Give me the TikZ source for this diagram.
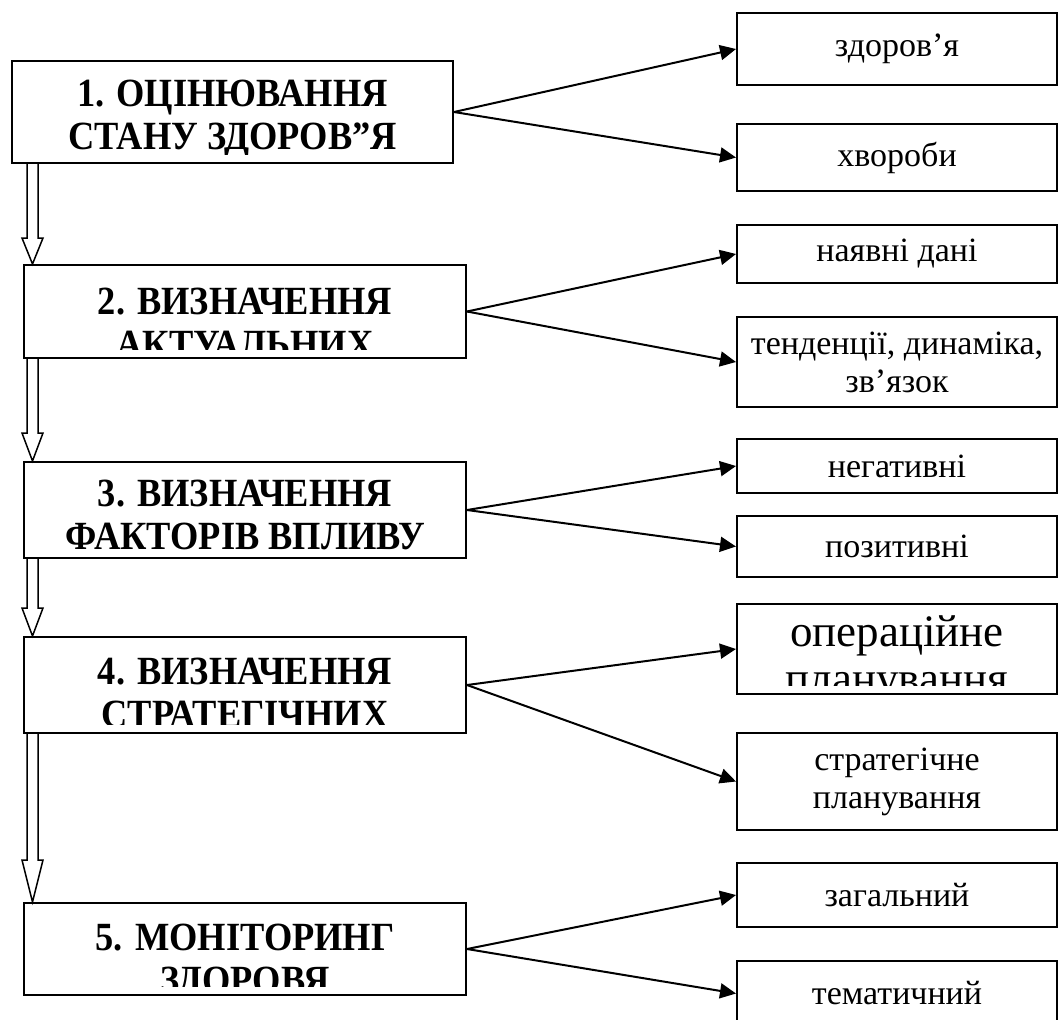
\documentclass[tikz,border=0pt]{standalone}
\usepackage{fontspec}
\setmainfont{LiberationSerif}[Extension=.ttf, UprightFont=*-Regular, BoldFont=*-Bold]
\newfontfamily\stagefont{LiberationSerif-Bold.ttf}[FakeStretch=0.91]
\usetikzlibrary{arrows.meta,calc}

\begin{document}
\begin{tikzpicture}[
    x=0.5pt, y=-0.5pt,
    stage/.style={draw, line width=1pt, inner sep=0pt, minimum width=221pt},
    stagetext/.style={font=\fontsize{20}{21.5}\stagefont, align=center, anchor=north, inner sep=0pt},
    item/.style={draw, line width=1pt, inner sep=0pt, minimum width=160pt, align=center, font=\fontsize{17}{19}\selectfont},
    link/.style={line width=1pt, -{Triangle[length=8pt,width=7.5pt]}},
    blockarrow/.style={line width=0.75pt, line join=miter}
]
\useasboundingbox (0,0) rectangle (1059,1019);
\clip (0,0) rectangle (1059,1019);

% main stages
\node[stage, minimum width=220.5pt, minimum height=51pt] (s1) at (232.5,112) {};
\node[stage, minimum height=46.5pt] (s2) at (245,311.5) {};
\node[stage, minimum height=48pt] (s3) at (245,510) {};
\node[stage, minimum height=48pt] (s4) at (245,685) {};
\node[stage, minimum height=46pt] (s5) at (245,949) {};

\foreach \n/\dy/\txt in {s1/20/{1. ОЦІНЮВАННЯ\\СТАНУ ЗДОРОВ”Я},
                         s2/24/{2. ВИЗНАЧЕННЯ\\АКТУАЛЬНИХ},
                         s3/19/{3. ВИЗНАЧЕННЯ\\ФАКТОРІВ ВПЛИВУ},
                         s4/22/{4. ВИЗНАЧЕННЯ\\СТРАТЕГІЧНИХ},
                         s5/22/{5. МОНІТОРИНГ\\ЗДОРОВЯ}}{
  \begin{scope}
    \clip ($(\n.north west)+(2,2)$) rectangle ($(\n.south east)+(-2,-10)$);
    \node[stagetext] at ($(\n.north)+(0,\dy)$) {\txt};
  \end{scope}
}

% sub items
\node[item, minimum height=36pt] (r1) at (897,49) {здоров’я};
\node[item, minimum height=33.5pt] (r2) at (897,157.5) {хвороби};
\node[item, minimum height=29pt] (r3) at (897,254) {наявні дані};
\node[item, minimum height=45pt] (r4) at (897,362) {тенденції, динаміка,\\зв’язок};
\node[item, minimum height=27pt] (r5) at (897,466) {негативні};
\node[item, minimum height=30.5pt] (r6) at (897,546.5) {позитивні};
\node[item, minimum height=45pt] (r7) at (897,649) {};
\begin{scope}
  \clip ($(r7.north west)+(2,2)$) rectangle ($(r7.south east)+(-2,-10)$);
  \node[anchor=north, inner sep=0pt, align=center, font=\fontsize{22.5}{23.5}\selectfont] at ($(r7.north)+(0,12)$) {операційне\\планування};
\end{scope}
\node[item, minimum height=48.5pt] (r8) at (897,781.5) {стратегічне\\планування};
\node[item, minimum height=32pt] (r9) at (897,895) {загальний};
\node[item, minimum height=32.5pt] (r10) at (897,993.5) {тематичний};

% connectors
\foreach \s/\a/\b in {s1/r1/r2, s2/r3/r4, s3/r5/r6, s4/r7/r8, s5/r9/r10}{
  \draw[link] (\s.east) -- (\a.west);
  \draw[link] (\s.east) -- (\b.west);
}

% hollow arrows between stages
\foreach \a/\b/\h in {s1/s2/26, s2/s3/28, s3/s4/28, s4/s5/42}
  \draw[blockarrow] ($(\b.north west |- \a.south)+(4,0)$) -- ($(\b.north west)+(4,-\h)$)
    -- ($(\b.north west)+(-1,-\h)$) -- ($(\b.north west)+(9.5,0)$) -- ($(\b.north west)+(20,-\h)$)
    -- ($(\b.north west)+(15,-\h)$) -- ($(\b.north west |- \a.south)+(15,0)$);
\end{tikzpicture}
\end{document}
